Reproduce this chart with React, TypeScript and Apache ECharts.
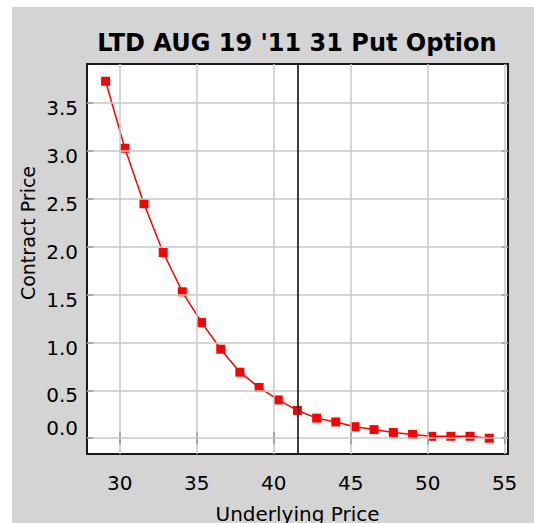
import { useEffect, useRef } from 'react';
import * as echarts from 'echarts';

const chartTitle = "LTD AUG 19 '11 31 Put Option";
const xName = 'Underlying Price';
const yName = 'Contract Price';

const underlyingPrices = [
  29.08, 30.33, 31.57, 32.82, 34.06, 35.31, 36.56, 37.8, 39.05, 40.29, 41.54,
  42.79, 44.03, 45.28, 46.52, 47.77, 49.02, 50.26, 51.51, 52.75, 54.0,
];
const contractPrices = [
  3.73, 3.03, 2.45, 1.94, 1.53, 1.21, 0.93, 0.69, 0.53, 0.4, 0.29,
  0.21, 0.17, 0.12, 0.09, 0.06, 0.04, 0.02, 0.02, 0.02, 0.0,
];
const currentPrice = 41.58;
const xTicks = [30, 35, 40, 45, 50, 55];
const yTicks = [0, 0.5, 1, 1.5, 2, 2.5, 3, 3.5];

const FONT = 'DejaVu Sans';

export default function App() {
  const ref = useRef<HTMLDivElement>(null);

  useEffect(() => {
    if (!ref.current) return;
    const chart = echarts.init(ref.current, undefined, { renderer: 'svg' });
    const points = underlyingPrices.map((x, i) => [x, contractPrices[i]]);
    const tickStyle = { color: '#000', width: 1.5 };

    chart.setOption({
      animation: false,
      backgroundColor: '#d4d4d4',
      grid: {
        left: 87,
        top: 64,
        right: 26,
        bottom: 69,
        outerBoundsMode: 'none',
        containLabel: false,
        show: true,
        backgroundColor: '#ffffff',
        borderColor: '#1a1a1a',
        borderWidth: 2,
      },
      graphic: [
        { type: 'rect', left: 0, top: 0, shape: { x: 0, y: 0, width: 534, height: 7 }, style: { fill: '#ffffff' }, silent: true },
        { type: 'rect', left: 0, top: 0, shape: { x: 0, y: 0, width: 12, height: 523 }, style: { fill: '#ffffff' }, silent: true },
        {
          type: 'text',
          x: 297,
          y: 43,
          style: {
            text: chartTitle,
            font: `bold 24px "${FONT}"`,
            fill: '#000',
            textAlign: 'center',
            textVerticalAlign: 'middle',
          },
        },
        {
          type: 'text',
          x: 28,
          y: 233,
          rotation: Math.PI / 2,
          style: {
            text: yName,
            font: `19px "${FONT}"`,
            fill: '#000',
            textAlign: 'center',
            textVerticalAlign: 'middle',
          },
        },
      ],
      xAxis: [
        {
          type: 'value',
          min: 27.87,
          max: 55.22,
          position: 'bottom',
          name: xName,
          nameLocation: 'middle',
          nameGap: 50,
          nameTextStyle: { fontFamily: FONT, fontSize: 20, color: '#000' },
          axisLine: { show: false },
          axisTick: { show: true, inside: true, length: 6, customValues: xTicks, lineStyle: tickStyle },
          axisLabel: { customValues: xTicks, margin: 19, fontFamily: FONT, fontSize: 20, color: '#000' },
          splitLine: { show: false },
        },
        {
          type: 'value',
          min: 27.87,
          max: 55.22,
          position: 'top',
          axisLine: { show: false },
          axisTick: { show: true, inside: true, length: 6, customValues: xTicks, lineStyle: tickStyle },
          axisLabel: { show: false },
          splitLine: { show: false },
        },
      ],
      yAxis: [
        {
          type: 'value',
          min: -0.165,
          max: 3.91,
          position: 'left',
          axisLine: { show: false },
          axisTick: { show: true, inside: true, length: 6, customValues: yTicks, lineStyle: tickStyle },
          axisLabel: {
            customValues: yTicks,
            margin: 9,
            fontFamily: FONT,
            fontSize: 20,
            color: '#000',
            padding: [10, 0, 0, 0],
            formatter: (v: number) => (Math.abs(v) < 1e-9 ? '{z|0.0}' : '{n|' + v.toFixed(1) + '}'),
            rich: {
              n: { fontFamily: FONT, fontSize: 20, color: '#000' },
              z: { fontFamily: FONT, fontSize: 20, color: '#000', padding: [0, 0, 30, 0] },
            },
          },
          splitLine: { show: false },
        },
        {
          type: 'value',
          min: -0.165,
          max: 3.91,
          position: 'right',
          axisLine: { show: false },
          axisTick: { show: true, inside: true, length: 6, customValues: yTicks, lineStyle: tickStyle },
          axisLabel: { show: false },
          splitLine: { show: false },
        },
      ],
      series: [
        {
          type: 'line',
          xAxisIndex: 0,
          yAxisIndex: 0,
          data: points,
          symbol: 'none',
          lineStyle: { opacity: 0 },
          z: 1,
          silent: true,
          markLine: {
            silent: true,
            symbol: ['none', 'none'],
            label: { show: false },
            lineStyle: { color: '#c8c8c8', width: 1.5, type: 'solid' },
            emphasis: { disabled: true },
            data: [
              ...xTicks.map((v) => ({ xAxis: v })),
              ...yTicks.map((v) => ({ yAxis: v })),
              { xAxis: currentPrice, lineStyle: { color: '#000', width: 1.5, type: 'solid' } },
            ],
          },
        },
        {
          type: 'line',
          xAxisIndex: 0,
          yAxisIndex: 0,
          data: points,
          z: 3,
          symbol: 'rect',
          symbolSize: 9,
          itemStyle: { color: '#ff0000' },
          lineStyle: { color: '#ff0000', width: 1.5 },
          silent: true,
        },
      ],
    });

    return () => chart.dispose();
  }, []);

  return (
    <div
      ref={ref}
      style={{ position: 'fixed', left: 0, top: 0, width: 534, height: 523 }}
    />
  );
}
